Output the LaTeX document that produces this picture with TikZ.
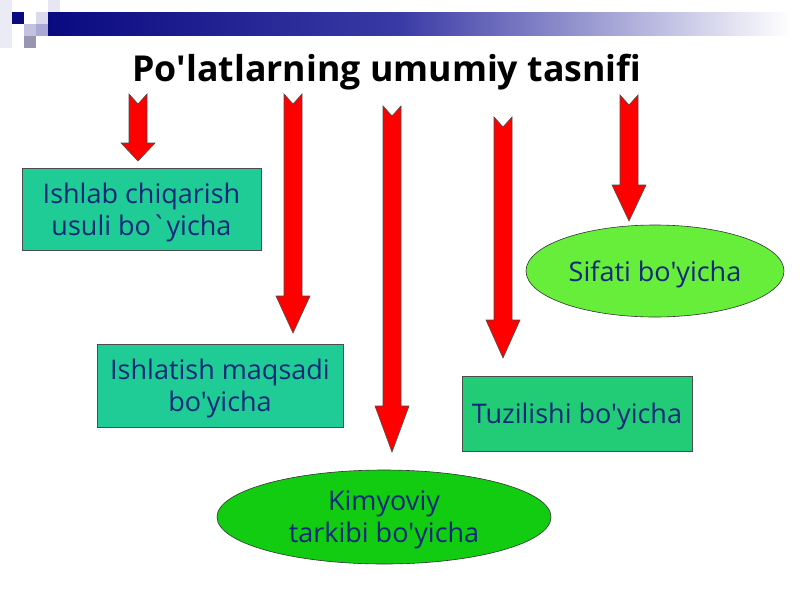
\documentclass[tikz,border=0pt]{standalone}
\usepackage{fontspec}
\setmainfont{Open Sans}[Ligatures=TeXOff]
\usetikzlibrary{shapes.geometric}
\definecolor{navy}{HTML}{0A0A80}
\definecolor{midnavy}{HTML}{3A3AA6}
\definecolor{txtblue}{HTML}{10287A}
\definecolor{boxteal}{HTML}{1FCC96}
\definecolor{boxgreen}{HTML}{22CC77}
\definecolor{lime}{HTML}{66EE3A}
\definecolor{ellgreen}{HTML}{11CC11}
\definecolor{arrred}{HTML}{FF0000}
\newcommand{\blockarr}[4]{% cx, top, headstart, tip
  \fill[arrred,draw=black!70,line width=0.6pt,line join=miter]
    ({#1-9},#2) -- (#1,{#2+10}) -- ({#1+9},#2) -- ({#1+9},#3) -- ({#1+17},#3)
    -- (#1,#4) -- ({#1-17},#3) -- ({#1-9},#3) -- cycle;}
\tikzset{
  rectbox/.style={draw=black!70,line width=0.6pt,text=txtblue,align=center,
    font=\fontsize{27}{32}\selectfont,inner sep=0pt,text depth=0pt},
  ellbox/.style={ellipse,draw=black!80,line width=0.6pt,text=txtblue,align=center,
    font=\fontsize{27}{32}\selectfont,inner sep=0pt,text depth=0pt},
}
\begin{document}
\begin{tikzpicture}[x=1pt,y=-1pt]
\useasboundingbox (0,0) rectangle (800,600);
\fill[white] (0,0) rectangle (800,600);
% top-left decoration
\fill[navy!8] (0,0) rectangle (12,48);
\fill[navy!10] (48,0) rectangle (60,12);
\fill[navy] (12,12) rectangle (24,24);
\fill[navy!15] (36,12) rectangle (48,24);
\fill[navy!25] (24,24) rectangle (36,36);
\fill[navy!35] (36,24) rectangle (48,36);
\fill[navy!40!gray!60] (24,36) rectangle (36,48);
\shade[left color=navy,right color=midnavy] (48,12) rectangle (400,35);
\shade[left color=midnavy,right color=white] (399.5,12) rectangle (790,35);
% title
\node[font=\fontsize{35.7}{40}\selectfont\bfseries] (title) at (387,72.5) {Po'latlarning umumiy tasnifi};
% arrows
\blockarr{138}{94}{143}{161}
\blockarr{293}{94}{296}{333}
\blockarr{392}{106}{406}{452}
\blockarr{503}{117}{320}{358}
\blockarr{629}{95}{185}{221}
% boxes
\node[rectbox,fill=boxteal,minimum width=239pt,minimum height=82pt] (b1) at (141.5,209) {Ishlab chiqarish\\ usuli bo`yicha};
\node[rectbox,fill=boxteal,minimum width=246pt,minimum height=83pt] (b2) at (220,385.5) {Ishlatish maqsadi\\ bo'yicha};
\node[rectbox,fill=boxgreen,minimum width=230pt,minimum height=75pt] (b3) at (577,413.5) {Tuzilishi bo'yicha};
\node[ellbox,fill=lime,minimum width=258pt,minimum height=92pt] (e1) at (655,271) {Sifati bo'yicha};
\node[ellbox,fill=ellgreen,minimum width=334pt,minimum height=94pt] (e2) at (384,517) {Kimyoviy\\ tarkibi bo'yicha};
\end{tikzpicture}
\end{document}
